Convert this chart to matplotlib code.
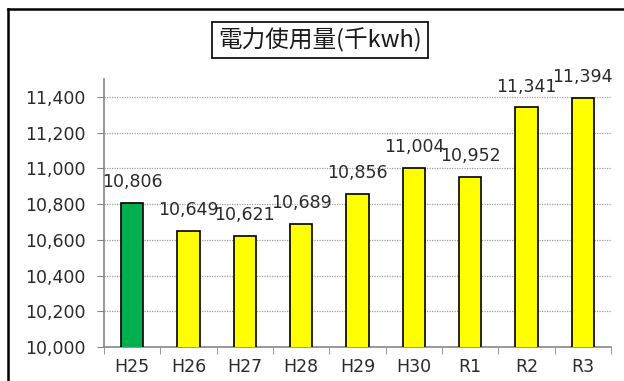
import numpy as np
import matplotlib.pyplot as plt
from matplotlib.lines import Line2D
from matplotlib.ticker import FuncFormatter

plt.rcParams['font.family'] = ['DejaVu Sans', 'Noto Sans CJK JP']

years = ['H25', 'H26', 'H27', 'H28', 'H29', 'H30', 'R1', 'R2', 'R3']
usage = [10806, 10649, 10621, 10689, 10856, 11004, 10952, 11341, 11394]
bar_colors = ['#00B050'] + ['#FFFF00'] * 8

fig = plt.figure(figsize=(6.24, 3.81), dpi=100)
ax = fig.add_axes([104 / 624, 1 - 347 / 381, (611 - 104) / 624, (347 - 79) / 381])

x = np.arange(len(years))
ax.bar(x, usage, width=0.4, color=bar_colors, edgecolor='black', linewidth=1.2, zorder=3)

for xi, v in zip(x, usage):
    ax.annotate(f'{v:,}', (xi, v), xytext=(0, 8.5), textcoords='offset points',
                ha='center', va='bottom', fontsize=12.5, color='#2a2a2a')

ax.set_xlim(-0.5, len(years) - 0.5)
ax.set_ylim(10000, 11500)
ax.set_yticks(np.arange(10000, 11401, 200))
ax.yaxis.set_major_formatter(FuncFormatter(lambda v, p: f'{int(v):,}'))
ax.set_xticks(x)
ax.set_xticklabels(years)
ax.set_xticks(np.arange(-0.5, len(years)), minor=True)
ax.tick_params(axis='x', which='major', length=0, pad=8, labelsize=12.5, labelcolor='#2a2a2a')
ax.tick_params(axis='x', which='minor', length=5, color='#868686', direction='out')
ax.tick_params(axis='y', length=5, color='#868686', labelsize=12.5, labelcolor='#2a2a2a', pad=8)

for y in np.arange(10200, 11401, 200):
    ax.axhline(y, color='#a0a0a0', linestyle=(0, (1, 1)), linewidth=0.9, zorder=1)

for s in ['top', 'right']:
    ax.spines[s].set_visible(False)
for s in ['left', 'bottom']:
    ax.spines[s].set_color('#868686')
    ax.spines[s].set_linewidth(1.2)

fig.text(320 / 624, 1 - 40 / 381, '電力使用量(千kwh)', ha='center', va='center',
         fontsize=17, family=['Noto Sans CJK JP', 'DejaVu Sans'], color='#1a1a1a',
         bbox=dict(boxstyle='square,pad=0.25', facecolor='white', edgecolor='black', linewidth=1.2))

# outer frame of the chart (only top and left edges are visible)
fig.add_artist(Line2D([8 / 624, 8 / 624], [0, 1 - 9 / 381], color='black', linewidth=1.8))
fig.add_artist(Line2D([8 / 624, 1], [1 - 9 / 381, 1 - 9 / 381], color='black', linewidth=1.8))

fig.savefig('out.png', dpi=100)
